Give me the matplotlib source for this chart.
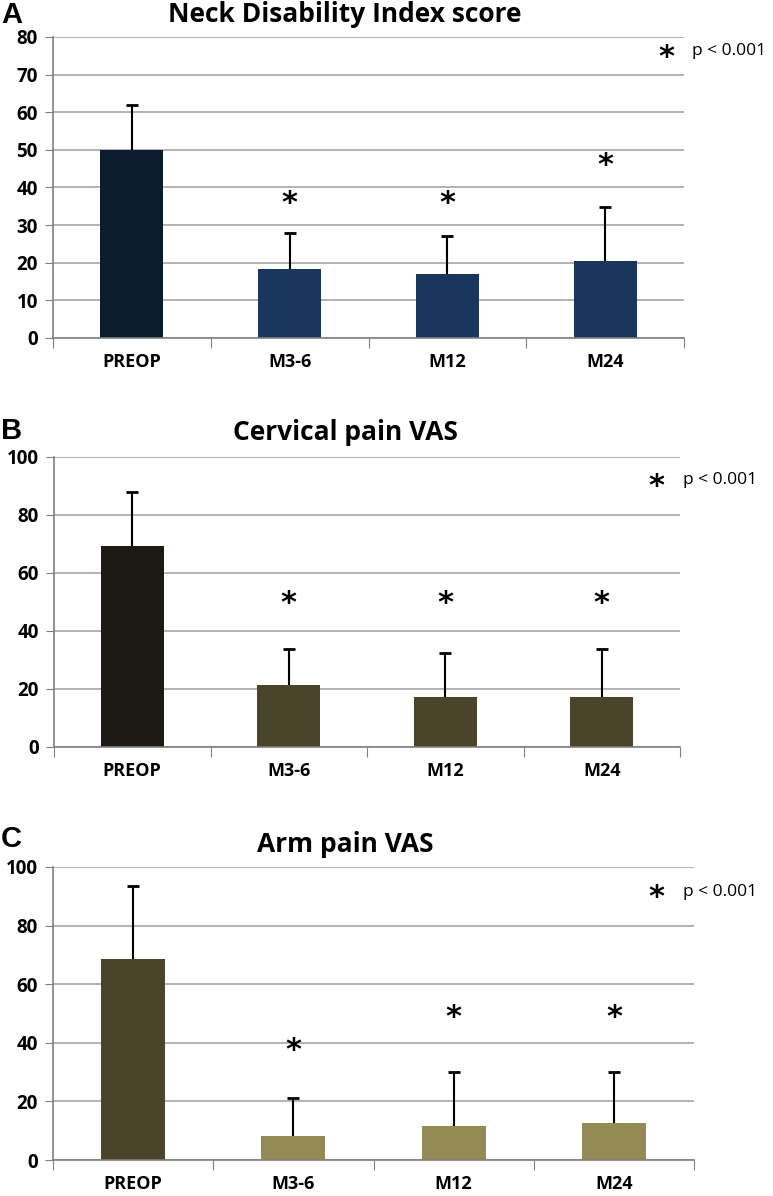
import numpy as np
import matplotlib.pyplot as plt

W, H = 773, 1196

categories = ['PREOP', 'M3-6', 'M12', 'M24']

# panel A: Neck Disability Index
nd_mean = [50.0, 18.4, 17.1, 20.4]
nd_sd = [12.0, 9.5, 9.9, 14.4]
nd_star = [None, 35.7, 35.7, 45.8]

# panel B: cervical pain VAS
cp_mean = [69.4, 21.4, 17.2, 17.2]
cp_sd = [18.7, 12.5, 15.1, 16.7]
cp_star = [None, 49.5, 49.5, 49.5]

# panel C: arm pain VAS
ap_mean = [68.5, 8.2, 11.5, 12.7]
ap_sd = [25.1, 13.0, 18.7, 17.5]
ap_star = [None, 37.5, 48.6, 48.6]

FONT = 'Open Sans'
plt.rcParams['font.family'] = [FONT, 'DejaVu Sans']

fig = plt.figure(figsize=(W / 100, H / 100), dpi=100)


def px_axes(left, top, right, bottom):
    return fig.add_axes([left / W, 1 - bottom / H, (right - left) / W, (bottom - top) / H])


def panel(box, means, sds, stars, colors, ymax, ystep, title, letter, title_y, letter_y,
          star_xy, ptext_x):
    ax = px_axes(*box)
    x = np.arange(len(categories))
    ax.bar(x, means, width=0.40, color=colors, zorder=2)
    _, caps, _ = ax.errorbar(x, means, yerr=[np.zeros(len(sds)), sds], fmt='none',
                             ecolor='black', elinewidth=1.5, capsize=4, capthick=2, zorder=3)
    caps[0].set_visible(False)
    for xi, s in zip(x, stars):
        if s is not None:
            ax.text(xi, s, '*', ha='center', va='center', fontsize=22, fontweight='bold',
                    family='DejaVu Sans', zorder=4)
    ax.set_xlim(-0.5, len(categories) - 0.5)
    ax.set_ylim(0, ymax)
    ax.set_yticks(np.arange(0, ymax + 1, ystep))
    ax.yaxis.grid(True, color='#a6a6a6', linewidth=1.2)
    ax.set_axisbelow(True)
    ax.set_xticks(np.arange(-0.5, len(categories)), minor=False)
    ax.set_xticklabels([])
    ax.set_xticks(x, minor=True)
    ax.set_xticklabels(categories, minor=True, fontsize=13, fontweight='bold')
    ax.tick_params(axis='x', which='minor', length=0, pad=11)
    ax.tick_params(axis='x', which='major', length=7, color='#808080', direction='out')
    ax.tick_params(axis='y', length=6, color='#808080', labelsize=13.5, pad=5)
    for lab in ax.get_yticklabels():
        lab.set_fontweight('bold')
    for side in ['top', 'right']:
        ax.spines[side].set_visible(False)
    for side in ['left', 'bottom']:
        ax.spines[side].set_color('#808080')
        ax.spines[side].set_linewidth(1.2)
    fig.text(345 / W, 1 - title_y / H, title, ha='center', va='center', fontsize=19,
             fontweight='bold')
    fig.text(1 / W, 1 - letter_y / H, letter, ha='left', va='center', fontsize=21,
             fontweight='bold', family='Liberation Sans')
    sx, sy = star_xy
    fig.text(sx / W, 1 - (sy + 5) / H, '*', ha='center', va='center', fontsize=22,
             fontweight='bold', family='DejaVu Sans')
    fig.text(ptext_x / W, 1 - (sy - 1) / H, 'p < 0.001', ha='left', va='center', fontsize=12.5)
    return ax


panel((53, 37, 684, 338), nd_mean, nd_sd, nd_star, ['#0d1b2f'] + ['#1b365d'] * 3,
      80, 10, 'Neck Disability Index score', 'A', 15, 15, (666, 52), 692)
panel((54, 457, 680, 747), cp_mean, cp_sd, cp_star, ['#1c1a12'] + ['#4a452a'] * 3,
      100, 20, 'Cervical pain VAS', 'B', 433, 431, (656, 481), 683)
panel((53, 867, 694, 1160), ap_mean, ap_sd, ap_star, ['#4a452a'] + ['#948a54'] * 3,
      100, 20, 'Arm pain VAS', 'C', 845, 839, (656, 893), 683)

fig.savefig('out.png', dpi=100)
